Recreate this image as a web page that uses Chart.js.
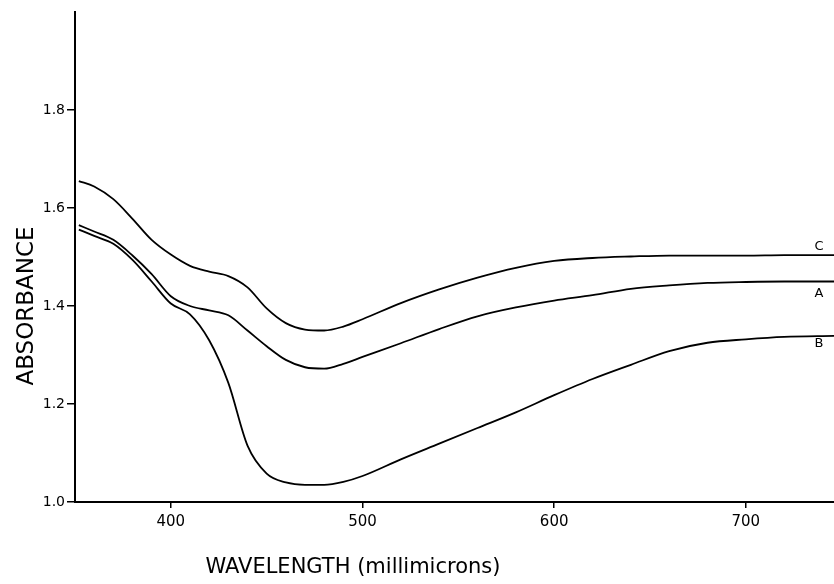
<!DOCTYPE html>
<html>
<head>
<meta charset="utf-8">
<script src="https://cdn.jsdelivr.net/npm/chart.js@4"></script>
<style>
  html, body { margin: 0; padding: 0; background: #fff; }
  #wrap { width: 834px; height: 584px; position: relative; }
</style>
</head>
<body>
<div id="wrap"><canvas id="c" width="834" height="584"></canvas></div>
<script>
const wavelengths = [352, 360, 370, 380, 390, 400, 410, 420, 430, 440, 450, 460, 470, 480, 490, 500, 520, 540, 560, 580, 600, 620, 640, 660, 680, 700, 720, 746];
const seriesC = [1.655, 1.644, 1.618, 1.578, 1.535, 1.505, 1.482, 1.470, 1.461, 1.438, 1.395, 1.365, 1.352, 1.350, 1.358, 1.373, 1.406, 1.434, 1.458, 1.478, 1.492, 1.498, 1.501, 1.503, 1.503, 1.503, 1.504, 1.504];
const seriesA = [1.565, 1.552, 1.535, 1.503, 1.465, 1.420, 1.400, 1.391, 1.381, 1.350, 1.318, 1.290, 1.275, 1.272, 1.282, 1.296, 1.324, 1.353, 1.379, 1.397, 1.411, 1.422, 1.435, 1.442, 1.447, 1.449, 1.450, 1.450];
const seriesB = [1.556, 1.543, 1.527, 1.494, 1.450, 1.405, 1.383, 1.330, 1.243, 1.115, 1.058, 1.040, 1.035, 1.035, 1.041, 1.053, 1.087, 1.119, 1.151, 1.183, 1.218, 1.251, 1.280, 1.308, 1.325, 1.332, 1.337, 1.339];
const seriesNames = ['C', 'A', 'B'];
const xTicks = [400, 500, 600, 700];
const yTicks = [1.0, 1.2, 1.4, 1.6, 1.8];
const xTitle = 'WAVELENGTH (millimicrons)';
const yTitle = 'ABSORBANCE';

const FONT = "'DejaVu Sans', 'Liberation Sans', sans-serif";

function toPoints(vals) { return wavelengths.map((w, i) => ({ x: w, y: vals[i] })); }

const mkDs = (name, vals) => ({
  label: name,
  data: toPoints(vals),
  borderColor: '#000',
  borderWidth: 1.8,
  pointRadius: 0,
  fill: false,
  cubicInterpolationMode: 'monotone'
});

const labelPlugin = {
  id: 'labels',
  afterDraw(chart) {
    const ctx = chart.ctx;
    const xs = chart.scales.x, ys = chart.scales.y;
    ctx.save();
    ctx.fillStyle = '#000';
    ctx.textAlign = 'center';
    ctx.textBaseline = 'middle';
    // y title
    ctx.font = '23px ' + FONT;
    ctx.save();
    ctx.translate(27, ys.getPixelForValue(1.4));
    ctx.rotate(-Math.PI / 2);
    ctx.fillText(yTitle, 0, 0);
    ctx.restore();
    // x title
    ctx.font = '21px ' + FONT;
    ctx.fillText(xTitle, xs.getPixelForValue(495), 568);
    // curve labels
    ctx.font = '13px ' + FONT;
    const offs = [-8, 12, 8];
    chart.data.datasets.forEach((ds, i) => {
      const last = ds.data[ds.data.length - 1];
      const px = chart.chartArea.right - 15;
      const py = ys.getPixelForValue(last.y) + offs[i];
      ctx.fillText(seriesNames[i], px, py);
    });
    ctx.restore();
  }
};

new Chart(document.getElementById('c'), {
  type: 'line',
  data: { datasets: [mkDs('C', seriesC), mkDs('A', seriesA), mkDs('B', seriesB)] },
  options: {
    responsive: false,
    animation: false,
    layout: { padding: { top: 12, right: 0, left: 0, bottom: 0 } },
    plugins: { legend: { display: false }, tooltip: { enabled: false } },
    scales: {
      x: {
        type: 'linear',
        min: 350, max: 746,
        afterBuildTicks: axis => { axis.ticks = xTicks.map(v => ({ value: v })); },
        afterFit: scale => { scale.height = 82; },
        grid: { display: true, drawOnChartArea: false, color: '#000', lineWidth: 1.5, tickLength: 6 },
        border: { display: true, color: '#000', width: 2 },
        ticks: { color: '#000', font: { family: FONT, size: 15 }, padding: 5, maxRotation: 0, callback: v => String(v) }
      },
      y: {
        type: 'linear',
        min: 1.0, max: 2.0,
        afterBuildTicks: axis => { axis.ticks = yTicks.map(v => ({ value: v })); },
        afterFit: scale => { scale.width = 75; },
        grid: { display: true, drawOnChartArea: false, color: '#000', lineWidth: 1.5, tickLength: 8 },
        border: { display: true, color: '#000', width: 2 },
        ticks: { color: '#000', font: { family: FONT, size: 14 }, padding: 2, callback: v => v.toFixed(1) }
      }
    }
  },
  plugins: [labelPlugin]
});
</script>
</body>
</html>
